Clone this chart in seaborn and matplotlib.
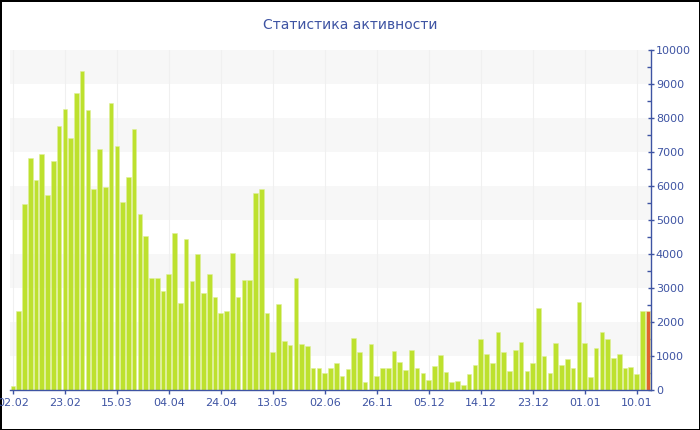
import numpy as np
import pandas as pd
import seaborn as sns
import matplotlib.pyplot as plt
from matplotlib.ticker import MultipleLocator

# daily activity values
values = [130, 2320, 5470, 6820, 6190, 6950, 5750, 6730, 7760, 8260,
          7410, 8750, 9370, 8230, 5920, 7080, 5960, 8440, 7190, 5530,
          6270, 7690, 5180, 4530, 3290, 3290, 2910, 3420, 4620, 2570,
          4440, 3210, 3990, 2840, 3400, 2750, 2260, 2330, 4040, 2750,
          3240, 3230, 5790, 5910, 2270, 1110, 2520, 1440, 1330, 3300,
          1340, 1280, 660, 660, 510, 640, 780, 410, 610, 1520,
          1120, 250, 1360, 410, 650, 640, 1160, 810, 580, 1190,
          650, 500, 280, 720, 1040, 520, 245, 255, 160, 470,
          735, 1490, 1070, 790, 1700, 1110, 560, 1170, 1410, 570,
          780, 2400, 1000, 510, 1380, 735, 900, 640, 2600, 1390,
          380, 1250, 1720, 1510, 930, 1070, 640, 670, 470, 2310,
          2330]
tick_labels = ["02.02", "23.02", "15.03", "04.04", "24.04", "13.05", "02.06",
               "26.11", "05.12", "14.12", "23.12", "01.01", "10.01"]
tick_step = 9

n = len(values)
df = pd.DataFrame({
    "day": [str(i) for i in range(n)],
    "value": values,
    "kind": ["done"] * (n - 1) + ["today"],
})

blue = "#3e54a3"
sns.set_theme(style="white")
plt.rcParams["font.family"] = ["DejaVu Sans"]

fig = plt.figure(figsize=(7, 4.3), dpi=100)
fig.patch.set_edgecolor("black")
fig.patch.set_linewidth(2)
ax = fig.add_axes([10 / 700, 40 / 430, 641 / 700, 340 / 430])

for lo in range(1000, 10000, 2000):
    ax.axhspan(lo, lo + 1000, color="#f7f7f7", zorder=0, lw=0)
for t in range(0, n, tick_step):
    ax.axvline(t, color="#f0f0f0", lw=0.8, zorder=0.5)

sns.barplot(data=df, x="day", y="value", hue="kind",
            palette={"done": "#bde12e", "today": "#e0632f"},
            dodge=False, legend=False, width=0.8, saturation=1,
            edgecolor="#dff09a", linewidth=0.4, ax=ax, zorder=2)

ax.set_xlim(-0.5, n - 0.5)
ax.set_ylim(0, 10000)
ax.set_xlabel("")
ax.set_ylabel("")
ax.set_xticks(range(0, n, tick_step))
ax.set_xticklabels(tick_labels)
ax.yaxis.tick_right()
ax.yaxis.set_major_locator(MultipleLocator(1000))
ax.yaxis.set_minor_locator(MultipleLocator(500))

for s in ["left", "top"]:
    ax.spines[s].set_visible(False)
for s in ["bottom", "right"]:
    ax.spines[s].set_color(blue)
    ax.spines[s].set_linewidth(1)

ax.tick_params(axis="x", colors=blue, labelsize=8, length=3, width=1,
               direction="out", pad=3, bottom=True)
ax.tick_params(axis="y", which="major", colors=blue, labelsize=8, length=5,
               width=1, direction="inout", pad=1, right=True)
ax.tick_params(axis="y", which="minor", colors=blue, length=3, width=1,
               direction="in", right=True)

fig.text(0.5, 1 - 25 / 430, "Статистика активности", ha="center",
         va="center", color=blue, fontsize=10)

fig.savefig("out.png", dpi=100)
